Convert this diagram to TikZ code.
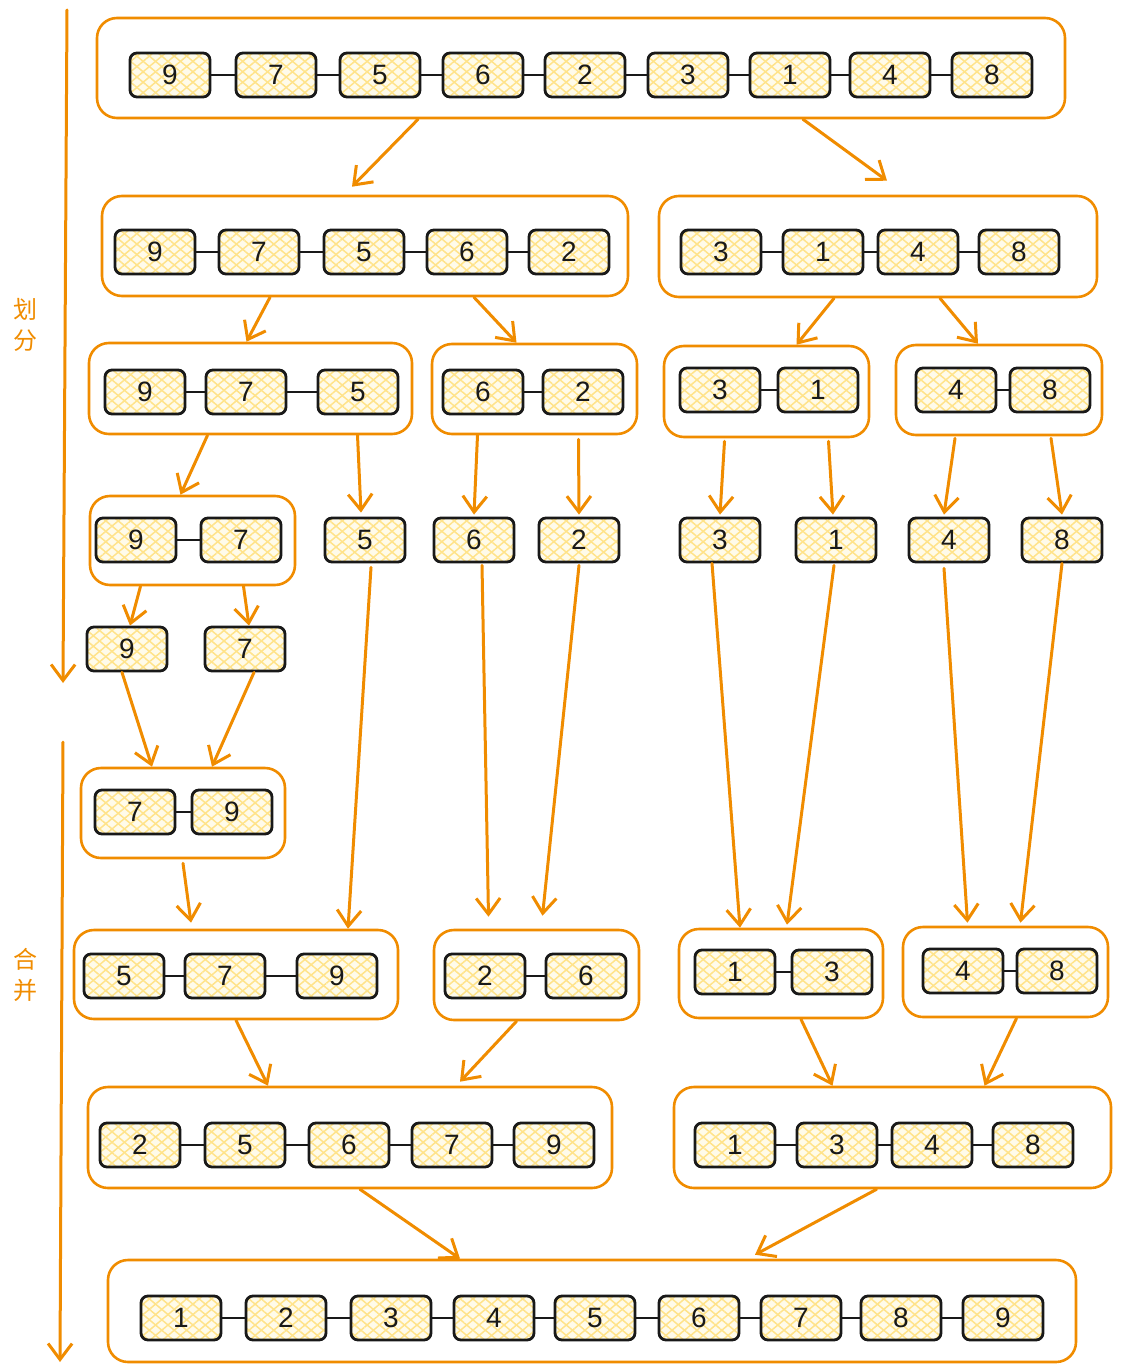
\documentclass[tikz,border=0pt]{standalone}
\usepackage{fontspec}
\setmainfont{Liberation Sans}
\newfontfamily\cjk{Noto Sans CJK SC}
\usetikzlibrary{arrows.meta,patterns.meta}
\definecolor{ora}{HTML}{F08C00}
\definecolor{hatch}{HTML}{FFE38A}
\definecolor{pale}{HTML}{FFFBEA}

\begin{document}
\begin{tikzpicture}[x=1pt,y=-1pt,
    num/.style={draw=black!90, line width=2.8pt, rounded corners=7pt,
        minimum width=80pt, minimum height=44pt, inner sep=0pt,
        preaction={fill=pale},
        preaction={pattern={Lines[angle=40,distance=8pt,line width=1.5pt]}, pattern color=hatch},
        preaction={pattern={Lines[angle=-40,distance=8pt,line width=1.5pt]}, pattern color=hatch},
        text=black!90, font=\fontsize{28}{30}\selectfont},
    grp/.style 2 args={draw=ora, line width=2.6pt, rounded corners=20pt,
        minimum width=#1, minimum height=#2},
    link/.style={line width=2pt, black!90},
    flow/.style={draw=ora, line width=3pt, line cap=round,
        -{Straight Barb[length=16pt,width=24pt]}},
    lbl/.style={text=ora, align=center, font=\cjk\fontsize{24}{31}\selectfont}]
\useasboundingbox (0,0) rectangle (1121,1372);

% side arrows
\coordinate (d0) at (67,10);
\coordinate (d1) at (63,683);
\coordinate (m0) at (63,742);
\coordinate (m1) at (60,1362);
\draw[flow] (d0) -- (d1);
\draw[flow] (m0) -- (m1);
\node[lbl] (split) at (25,325) {划\\分};
\node[lbl] (merge) at (25,975) {合\\并};

% groups
\node[grp={968pt}{100pt}] (T) at (581,68) {};
\node[grp={526pt}{100pt}] (A) at (365,246) {};
\node[grp={438pt}{101pt}] (B) at (878,246.5) {};
\node[grp={323pt}{91pt}] (C) at (250.5,388.5) {};
\node[grp={205pt}{90pt}] (D) at (534.5,389) {};
\node[grp={205pt}{91pt}] (E) at (766.5,391.5) {};
\node[grp={206pt}{90pt}] (F) at (999,390) {};
\node[grp={205pt}{89pt}] (G) at (192.5,540.5) {};
\node[grp={204pt}{90pt}] (H) at (183,813) {};
\node[grp={324pt}{89pt}] (I) at (236,974.5) {};
\node[grp={205pt}{90pt}] (J) at (536.5,975) {};
\node[grp={204pt}{89pt}] (K) at (781,973.5) {};
\node[grp={205pt}{90pt}] (L) at (1005.5,972) {};
\node[grp={524pt}{101pt}] (M) at (350,1137.5) {};
\node[grp={437pt}{101pt}] (N) at (892.5,1137.5) {};
\node[grp={968pt}{102pt}] (P) at (592,1311) {};

% split rows
\foreach \x/\v [count=\i] in {170/9,276/7,380/5,483/6,585/2,688/3,790/1,890/4,992/8}
    \node[num] (t\i) at (\x,75) {\v};
\foreach \i [count=\j from 2] in {1,...,8}
    \draw[link] (t\i) -- (t\j);

\foreach \x/\v [count=\i] in {155/9,259/7,364/5,467/6,569/2}
    \node[num] (a\i) at (\x,252) {\v};
\foreach \i [count=\j from 2] in {1,...,4}
    \draw[link] (a\i) -- (a\j);
\foreach \x/\v [count=\i] in {721/3,823/1,918/4,1019/8}
    \node[num] (b\i) at (\x,252) {\v};
\foreach \i [count=\j from 2] in {1,...,3}
    \draw[link] (b\i) -- (b\j);

\foreach \x/\v [count=\i] in {145/9,246/7,358/5}
    \node[num] (c\i) at (\x,392) {\v};
\draw[link] (c1) -- (c2);
\draw[link] (c2) -- (c3);
\foreach \x/\v [count=\i] in {483/6,583/2}
    \node[num] (d\i) at (\x,392) {\v};
\draw[link] (d1) -- (d2);
\foreach \x/\v [count=\i] in {720/3,818/1}
    \node[num] (e\i) at (\x,390) {\v};
\draw[link] (e1) -- (e2);
\foreach \x/\v [count=\i] in {956/4,1050/8}
    \node[num] (f\i) at (\x,390) {\v};
\draw[link] (f1) -- (f2);

\foreach \x/\v [count=\i] in {136/9,241/7}
    \node[num] (g\i) at (\x,540) {\v};
\draw[link] (g1) -- (g2);
\foreach \x/\v in {365/5,474/6,579/2,720/3,836/1,949/4,1062/8}
    \node[num] (s\v) at (\x,540) {\v};
\node[num] (u9) at (127,649) {9};
\node[num] (u7) at (245,649) {7};

% merge rows
\foreach \x/\v [count=\i] in {135/7,232/9}
    \node[num] (h\i) at (\x,812) {\v};
\draw[link] (h1) -- (h2);

\foreach \x/\v [count=\i] in {124/5,225/7,337/9}
    \node[num] (i\i) at (\x,976) {\v};
\draw[link] (i1) -- (i2);
\draw[link] (i2) -- (i3);
\foreach \x/\v [count=\i] in {485/2,586/6}
    \node[num] (j\i) at (\x,976) {\v};
\draw[link] (j1) -- (j2);
\foreach \x/\v [count=\i] in {735/1,832/3}
    \node[num] (k\i) at (\x,972) {\v};
\draw[link] (k1) -- (k2);
\foreach \x/\v [count=\i] in {963/4,1057/8}
    \node[num] (l\i) at (\x,971) {\v};
\draw[link] (l1) -- (l2);

\foreach \x/\v [count=\i] in {140/2,245/5,349/6,452/7,554/9}
    \node[num] (m\i) at (\x,1145) {\v};
\foreach \i [count=\j from 2] in {1,...,4}
    \draw[link] (m\i) -- (m\j);
\foreach \x/\v [count=\i] in {735/1,837/3,932/4,1033/8}
    \node[num] (n\i) at (\x,1145) {\v};
\foreach \i [count=\j from 2] in {1,...,3}
    \draw[link] (n\i) -- (n\j);

\foreach \x [count=\i] in {181,286,391,494,595,699,801,901,1003}
    \node[num] (p\i) at (\x,1318) {\i};
\foreach \i [count=\j from 2] in {1,...,8}
    \draw[link] (p\i) -- (p\j);

% split arrows
\draw[flow] ([xshift=-163pt]T.south) -- ([xshift=-13pt,yshift=8pt]A.north);
\draw[flow] ([xshift=222pt]T.south) -- ([xshift=9pt,yshift=14pt]B.north);
\draw[flow] ([xshift=-95pt]A.south) -- ([xshift=-4pt]C.north);
\draw[flow] ([xshift=109pt]A.south) -- ([xshift=-18pt]D.north);
\draw[flow] ([xshift=-44pt]B.south) -- ([xshift=30pt]E.north);
\draw[flow] ([xshift=62pt]B.south) -- ([xshift=-21pt]F.north);
\draw[flow] ([xshift=-43pt]C.south) -- ([xshift=-12pt]G.north);
\draw[flow] ([xshift=107pt]C.south) -- ([xshift=-4pt,yshift=4pt]s5.north);
\draw[flow] ([xshift=-57pt]D.south) -- ([yshift=2pt]s6.north);
\draw[flow] ([xshift=44pt,yshift=-4pt]D.south) -- ([yshift=2pt]s2.north);
\draw[flow] ([xshift=-42pt,yshift=-3pt]E.south) -- ([yshift=2pt]s3.north);
\draw[flow] ([xshift=62pt,yshift=-3pt]E.south) -- ([xshift=-3pt,yshift=2pt]s1.north);
\draw[flow] ([xshift=-44pt,yshift=-2pt]F.south) -- ([xshift=-5pt,yshift=2pt]s4.north);
\draw[flow] ([xshift=52pt,yshift=-2pt]F.south) -- ([yshift=2pt]s8.north);
\draw[flow] ([xshift=-52pt]G.south) -- ([xshift=3pt]u9.north);
\draw[flow] ([xshift=51pt]G.south) -- ([xshift=4pt]u7.north);

% merge arrows
\draw[flow] ([xshift=-5pt]u9.south) -- ([xshift=-31pt]H.north);
\draw[flow] ([xshift=9pt]u7.south) -- ([xshift=29pt]H.north);
\draw[flow] ([yshift=-4pt]H.south) -- ([xshift=-45pt,yshift=6pt]I.north);
\draw[flow] ([xshift=6pt,yshift=-4pt]s5.south) -- ([xshift=112pt]I.north);
\draw[flow] ([xshift=8pt,yshift=-2pt]s6.south) -- ([xshift=-48pt,yshift=12pt]J.north);
\draw[flow] ([yshift=-2pt]s2.south) -- ([xshift=6pt,yshift=13pt]J.north);
\draw[flow] ([xshift=-8pt]s3.south) -- ([xshift=-41pt]K.north);
\draw[flow] ([xshift=-2pt,yshift=-2pt]s1.south) -- ([xshift=6pt,yshift=3pt]K.north);
\draw[flow] ([xshift=-5pt,yshift=-5pt]s4.south) -- ([xshift=-38pt,yshift=3pt]L.north);
\draw[flow] (s8.south) -- ([xshift=15pt,yshift=3pt]L.north);
\draw[flow] (I.south) -- ([xshift=-82pt]M.north);
\draw[flow] ([xshift=-20pt]J.south) -- ([xshift=110pt,yshift=4pt]M.north);
\draw[flow] ([xshift=20pt]K.south) -- ([xshift=-60pt]N.north);
\draw[flow] ([xshift=11pt]L.south) -- ([xshift=92pt]N.north);
\draw[flow] ([xshift=10pt]M.south) -- ([xshift=-132pt]P.north);
\draw[flow] ([xshift=-16pt]N.south) -- ([xshift=163pt,yshift=4pt]P.north);
\end{tikzpicture}
\end{document}
